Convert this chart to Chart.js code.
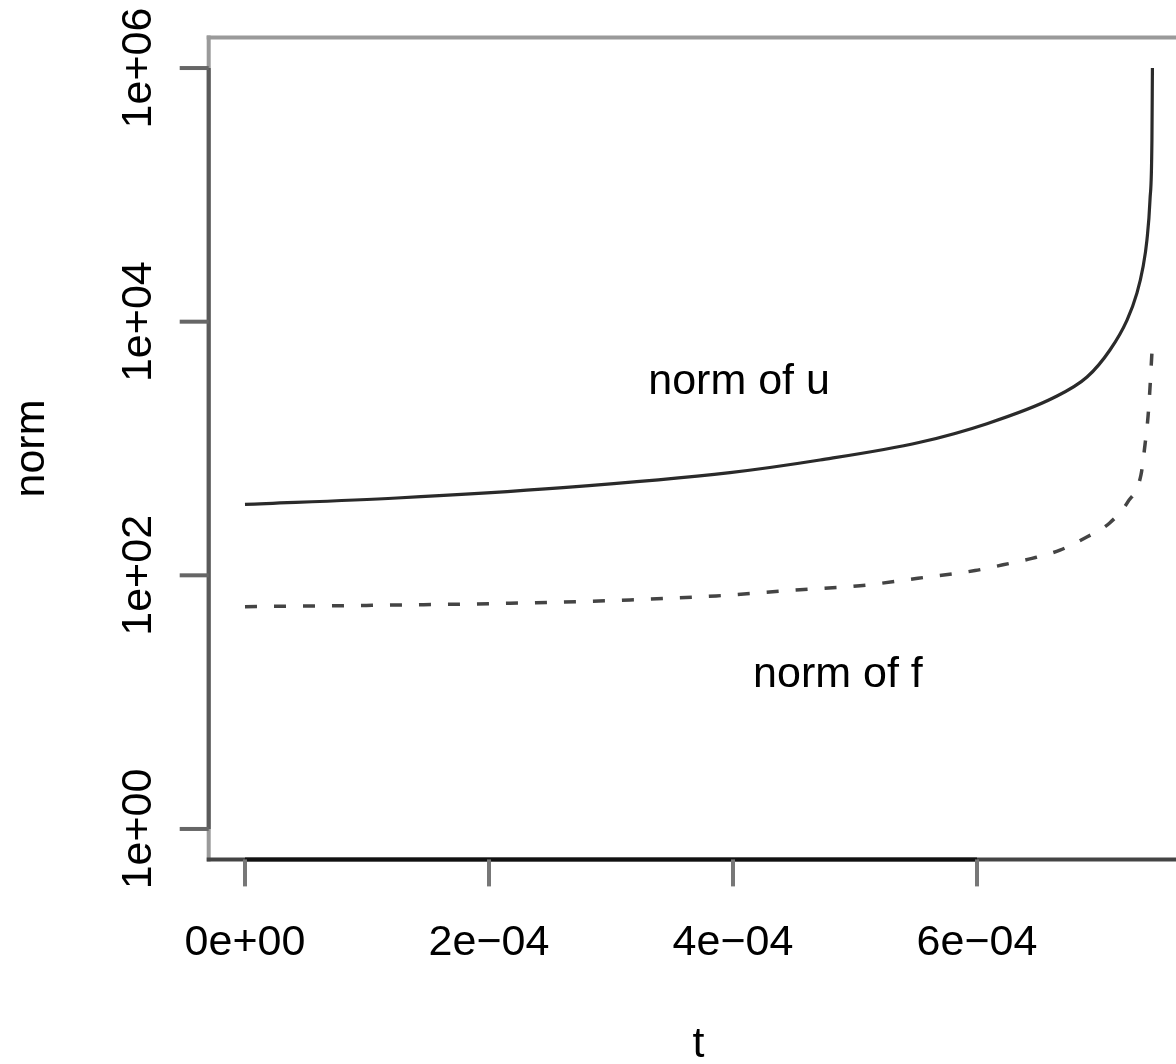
<!DOCTYPE html>
<html>
<head>
<meta charset="utf-8">
<title>norm vs t</title>
<script src="https://cdn.jsdelivr.net/npm/chart.js@4.4.1/dist/chart.umd.min.js"></script>
<style>
  html, body { margin: 0; padding: 0; background: #ffffff; overflow: hidden; }
  #wrap { width: 1176px; height: 1064px; position: relative; }
  canvas { display: block; }
</style>
</head>
<body>
<div id="wrap"><canvas id="c" width="1176" height="1064"></canvas></div>
<script>
// Norm of the solution u over time (blows up near t ~ 7.44e-4)
const uTimes = [0, 1.246e-4, 2.607e-4, 3.975e-4, 4.713e-4, 5.533e-4, 6.082e-4, 6.623e-4,
                6.902e-4, 7.090e-4, 7.230e-4, 7.311e-4, 7.361e-4, 7.393e-4, 7.418e-4, 7.434e-4, 7.438e-4];
const uNorms = [362, 407, 491, 645, 811, 1120, 1570, 2500,
                3660, 5980, 10300, 16800, 27000, 44000, 91000, 270000, 1000000];

// Norm of the forcing f over time
const fTimes = [0, 1.041e-4, 2.172e-4, 3.156e-4, 3.861e-4, 4.549e-4, 5.041e-4, 5.516e-4, 5.984e-4,
                6.213e-4, 6.451e-4, 6.680e-4, 6.885e-4, 7.090e-4, 7.238e-4, 7.344e-4, 7.377e-4,
                7.402e-4, 7.418e-4, 7.434e-4];
const fNorms = [56.6, 58, 60.2, 64, 68.8, 77, 82.8, 94.8, 109,
                121, 136, 158, 197, 260, 381, 618, 1066,
                1782, 3000, 5700];

// Axis ticks
const xTickValues = [0, 2e-4, 4e-4, 6e-4];
const xTickLabels = ['0e+00', '2e\u221204', '4e\u221204', '6e\u221204'];
const yTickValues = [1, 1e2, 1e4, 1e6];
const yTickLabels = ['1e+00', '1e+02', '1e+04', '1e+06'];

// Axis titles and curve labels
const xTitle = 't';
const yTitle = 'norm';
const curveLabels = ['norm of u', 'norm of f'];

const FONT = '43px "Liberation Sans", Arial, Helvetica, sans-serif';

// Axis ranges (base-graphics style: data range widened by 4%)
const X_MIN = -2.974e-5, X_MAX = 7.6313e-4, X_CENTER = 3.717e-4;
const Y_MIN = Math.pow(10, -0.24), Y_MAX = Math.pow(10, 6.24);

// Frame, ticks, tick labels, titles and in-plot labels
const framePlugin = {
  id: 'baseFrame',
  afterDraw(chart) {
    const { ctx, chartArea: a, scales: { x, y } } = chart;
    ctx.save();
    ctx.lineCap = 'butt';
    const seg = (x1, y1, x2, y2, color, w) => {
      ctx.beginPath();
      ctx.strokeStyle = color;
      ctx.lineWidth = w;
      ctx.moveTo(x1, y1);
      ctx.lineTo(x2, y2);
      ctx.stroke();
    };

    // box
    seg(a.left - 2, a.top, a.right, a.top, '#9a9a9a', 4);
    seg(a.left, a.top - 2, a.left, a.bottom + 2, '#9a9a9a', 4);
    seg(a.left - 2, a.bottom, a.right, a.bottom, '#444444', 4);

    // axis lines spanning the ticks
    const xa = x.getPixelForValue(xTickValues[0]);
    const xb = x.getPixelForValue(xTickValues[xTickValues.length - 1]);
    seg(xa, a.bottom, xb, a.bottom, '#111111', 4);
    const ya = y.getPixelForValue(yTickValues[0]);
    const yb = y.getPixelForValue(yTickValues[yTickValues.length - 1]);
    seg(a.left, ya, a.left, yb, '#5a5a5a', 4);

    // tick marks
    xTickValues.forEach(v => {
      const px = x.getPixelForValue(v);
      seg(px, a.bottom, px, a.bottom + 27, '#777777', 4);
    });
    yTickValues.forEach(v => {
      const py = y.getPixelForValue(v);
      seg(a.left, py, a.left - 29, py, '#666666', 4);
    });

    // tick labels
    ctx.fillStyle = '#000000';
    ctx.font = FONT;
    ctx.textAlign = 'center';
    ctx.textBaseline = 'alphabetic';
    xTickLabels.forEach((s, i) => {
      ctx.fillText(s, x.getPixelForValue(xTickValues[i]), a.bottom + 96);
    });
    yTickLabels.forEach((s, i) => {
      const py = y.getPixelForValue(yTickValues[i]);
      ctx.save();
      ctx.translate(a.left - 58, py);
      ctx.rotate(-Math.PI / 2);
      ctx.fillText(s, 0, 0);
      ctx.restore();
    });

    // axis titles
    ctx.fillText(xTitle, x.getPixelForValue(X_CENTER), a.bottom + 198);
    ctx.save();
    ctx.translate(44, (a.top + a.bottom) / 2);
    ctx.rotate(-Math.PI / 2);
    ctx.fillText(yTitle, 0, 0);
    ctx.restore();

    // curve labels
    ctx.fillText(curveLabels[0], x.getPixelForValue(4.05e-4), y.getPixelForValue(2690));
    ctx.fillText(curveLabels[1], x.getPixelForValue(4.86e-4), y.getPixelForValue(13.2));

    ctx.restore();
  }
};

new Chart(document.getElementById('c'), {
  type: 'line',
  data: {
    datasets: [
      {
        label: curveLabels[0],
        data: uTimes.map((t, i) => ({ x: t, y: uNorms[i] })),
        borderColor: '#2a2a2a',
        borderWidth: 3.2,
        pointRadius: 0,
        cubicInterpolationMode: 'monotone',
        fill: false
      },
      {
        label: curveLabels[1],
        data: fTimes.map((t, i) => ({ x: t, y: fNorms[i] })),
        borderColor: '#444444',
        borderWidth: 3.5,
        borderDash: [12, 17],
        pointRadius: 0,
        cubicInterpolationMode: 'monotone',
        fill: false
      }
    ]
  },
  options: {
    responsive: false,
    animation: false,
    devicePixelRatio: 1,
    layout: { padding: { left: 208.7, right: 0, top: 37.6, bottom: 204.6 } },
    plugins: { legend: { display: false }, tooltip: { enabled: false } },
    scales: {
      x: { type: 'linear', min: X_MIN, max: X_MAX, bounds: 'data', display: false },
      y: { type: 'logarithmic', min: Y_MIN, max: Y_MAX, bounds: 'data', display: false }
    }
  },
  plugins: [framePlugin]
});
</script>
</body>
</html>
